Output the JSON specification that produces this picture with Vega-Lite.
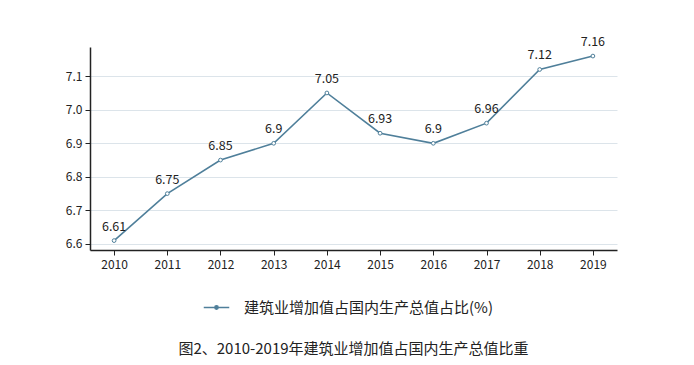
{
  "$schema": "https://vega.github.io/schema/vega-lite/v6.json",
  "autosize": "none",
  "width": 527,
  "height": 203,
  "padding": {"left": 90, "top": 47, "right": 77, "bottom": 115},
  "background": "white",
  "config": {
    "font": "Noto Sans CJK SC",
    "view": {"stroke": null}
  },
  "title": {
    "text": "图2、2010-2019年建筑业增加值占国内生产总值比重",
    "orient": "bottom",
    "anchor": "middle",
    "fontSize": 15,
    "fontWeight": "normal",
    "color": "#222222",
    "baseline": "top",
    "offset": 26
  },
  "data": {
    "values": [
      {"year": "2010", "value": 6.61, "series": "建筑业增加值占国内生产总值占比(%)"},
      {"year": "2011", "value": 6.75, "series": "建筑业增加值占国内生产总值占比(%)"},
      {"year": "2012", "value": 6.85, "series": "建筑业增加值占国内生产总值占比(%)"},
      {"year": "2013", "value": 6.9, "series": "建筑业增加值占国内生产总值占比(%)"},
      {"year": "2014", "value": 7.05, "series": "建筑业增加值占国内生产总值占比(%)"},
      {"year": "2015", "value": 6.93, "series": "建筑业增加值占国内生产总值占比(%)"},
      {"year": "2016", "value": 6.9, "series": "建筑业增加值占国内生产总值占比(%)"},
      {"year": "2017", "value": 6.96, "series": "建筑业增加值占国内生产总值占比(%)"},
      {"year": "2018", "value": 7.12, "series": "建筑业增加值占国内生产总值占比(%)"},
      {"year": "2019", "value": 7.16, "series": "建筑业增加值占国内生产总值占比(%)"}
    ]
  },
  "encoding": {
    "x": {
      "field": "year", "type": "ordinal",
      "scale": {"type": "point", "padding": 0.453},
      "axis": {
        "title": null, "labelAngle": 0, "labelFontSize": 12, "labelColor": "#222222",
        "labelPadding": 4, "domainColor": "#222222", "domainWidth": 1.5,
        "tickColor": "#222222", "tickSize": 5, "grid": false
      }
    },
    "y": {
      "field": "value", "type": "quantitative",
      "scale": {"domain": [6.582, 7.187], "nice": false, "zero": false},
      "axis": {
        "title": null, "values": [6.6, 6.7, 6.8, 6.9, 7.0, 7.1], "format": ".1f",
        "labelFontSize": 12, "labelColor": "#222222", "labelPadding": 3,
        "domainColor": "#222222", "domainWidth": 1.5,
        "tickColor": "#222222", "tickSize": 5,
        "grid": true, "gridColor": "#dce4ea", "gridWidth": 1
      }
    }
  },
  "layer": [
    {
      "mark": {"type": "line", "strokeWidth": 1.6, "point": {"filled": true, "fill": "white", "stroke": "#4f7f9a", "strokeWidth": 1, "size": 14}},
      "encoding": {
        "color": {
          "field": "series", "type": "nominal",
          "scale": {"range": ["#4f7f9a"]},
          "legend": {
            "title": null, "orient": "none", "legendX": 113, "legendY": 247,
            "labelFontSize": 15, "labelColor": "#222222", "labelOffset": 14, "labelLimit": 400,
            "symbolType": "M-1,0L-0.13,0M0.13,0A0.13,0.13 0 1,1 -0.13,0A0.13,0.13 0 1,1 0.13,0M0.13,0L1,0",
            "symbolSize": 650, "symbolStrokeWidth": 1.5,
            "encode": {"symbols": {"update": {"fill": {"value": "white"}, "stroke": {"value": "#4f7f9a"}}}}
          }
        }
      }
    },
    {
      "mark": {"type": "text", "dy": -14, "fontSize": 12.5, "color": "#222222", "baseline": "middle"},
      "encoding": {"text": {"field": "value", "type": "nominal"}}
    }
  ]
}
